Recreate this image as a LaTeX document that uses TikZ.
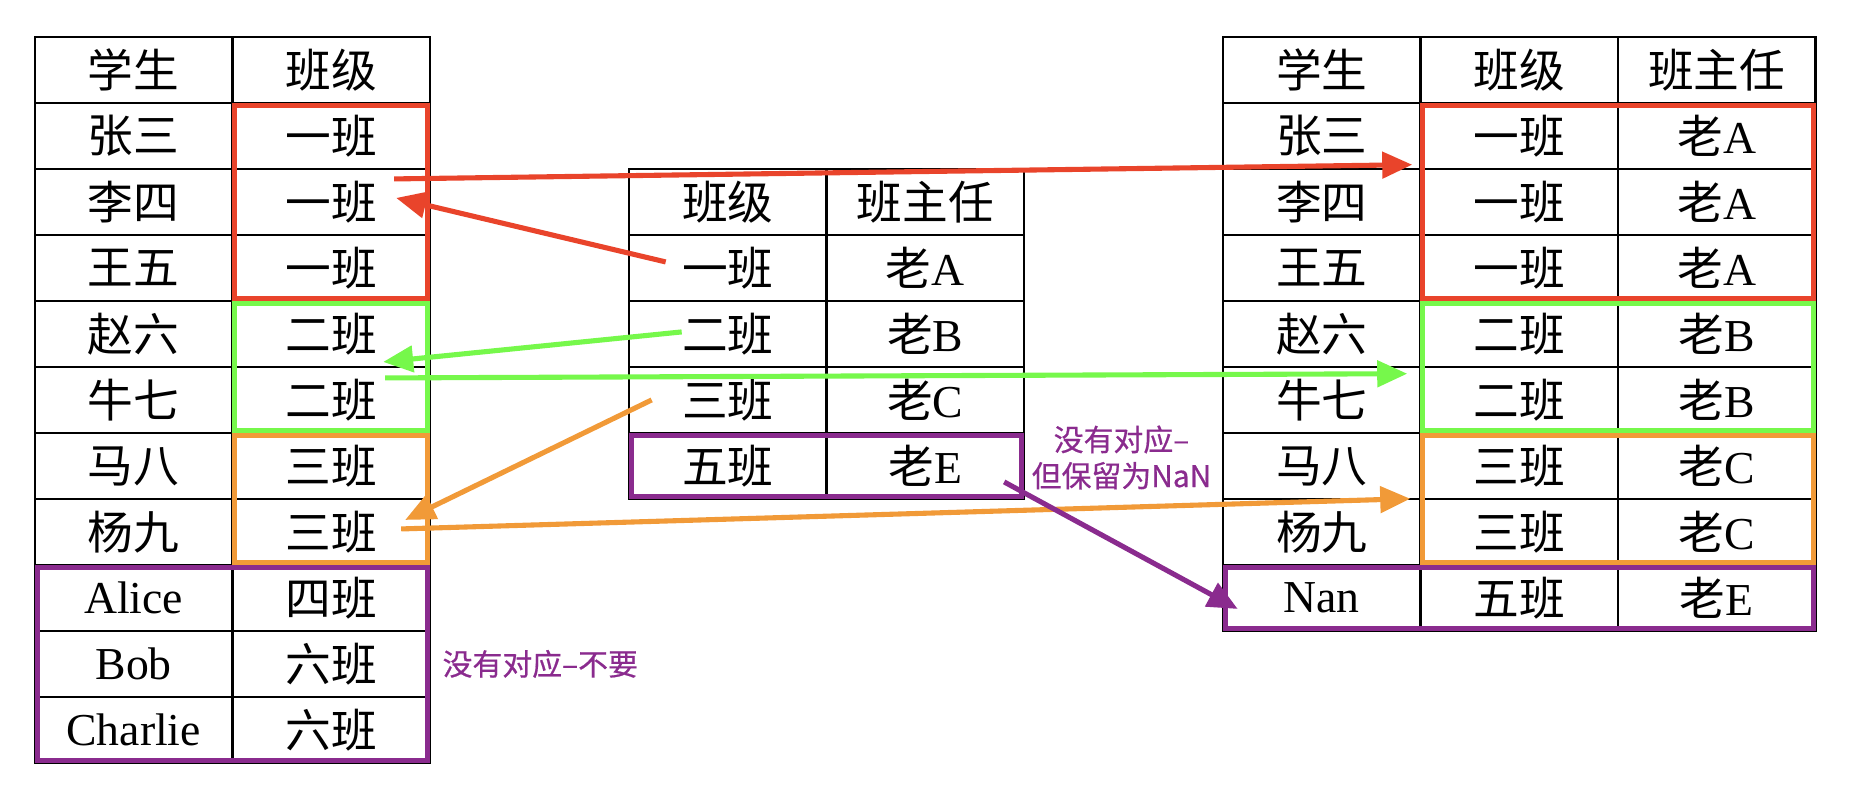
\documentclass[tikz,border=0pt]{standalone}
\usepackage{fontspec}
\setmainfont{Noto Sans CJK SC}
\newfontfamily\latin{Liberation Serif}
\newfontfamily\notefont[FakeBold=0.6]{Noto Sans CJK SC}
\usetikzlibrary{matrix,fit,arrows.meta,positioning}

\definecolor{hlred}{RGB}{233,68,43}
\definecolor{hlgreen}{RGB}{118,248,75}
\definecolor{hlorange}{RGB}{241,154,56}
\definecolor{hlpurple}{RGB}{138,43,142}

\tikzstyle{cell} = [rectangle, draw=black, line width=0.7pt, minimum width=1.975cm, minimum height=0.66cm, inner sep=0pt, anchor=center, text centered, font=\fontsize{13}{15}\selectfont]
\tikzstyle{table} = [matrix of nodes, nodes={cell}, column sep=-0.7pt, row sep=-0.7pt, inner sep=0pt, anchor=north west]
\tikzstyle{group} = [rectangle, line width=1.45pt, inner sep=-0.035cm]
\tikzstyle{link} = [line width=1.45pt, -{Triangle[length=0.3cm, width=0.26cm]}]
\tikzstyle{note} = [text=hlpurple, font=\notefont\fontsize{8.5}{10.3}\selectfont, align=center]

\begin{document}
\begin{tikzpicture}
\useasboundingbox (0,0) rectangle (18.56,8.02);

% students and their class
\matrix (lt) [table] at (0.33,7.67) {
学生 & 班级 \\
张三 & 一班 \\
李四 & 一班 \\
王五 & 一班 \\
赵六 & 二班 \\
牛七 & 二班 \\
马八 & 三班 \\
杨九 & 三班 \\
{\latin Alice} & 四班 \\
{\latin Bob} & 六班 \\
{\latin Charlie} & 六班 \\
};

% class and teacher
\matrix (mt) [table] at (6.27,6.35) {
班级 & 班主任 \\
一班 & 老{\latin A} \\
二班 & 老{\latin B} \\
三班 & 老{\latin C} \\
五班 & 老{\latin E} \\
};

% merged result
\matrix (rt) [table] at (12.21,7.67) {
学生 & 班级 & 班主任 \\
张三 & 一班 & 老{\latin A} \\
李四 & 一班 & 老{\latin A} \\
王五 & 一班 & 老{\latin A} \\
赵六 & 二班 & 老{\latin B} \\
牛七 & 二班 & 老{\latin B} \\
马八 & 三班 & 老{\latin C} \\
杨九 & 三班 & 老{\latin C} \\
{\latin Nan} & 五班 & 老{\latin E} \\
};

\node (lred) [group, draw=hlred, fit=(lt-2-2)(lt-4-2)] {};
\node (lgreen) [group, draw=hlgreen, fit=(lt-5-2)(lt-6-2)] {};
\node (lorange) [group, draw=hlorange, fit=(lt-7-2)(lt-8-2)] {};
\node (lpurple) [group, draw=hlpurple, fit=(lt-9-1)(lt-11-2)] {};
\node (mpurple) [group, draw=hlpurple, fit=(mt-5-1)(mt-5-2)] {};
\node (rred) [group, draw=hlred, fit=(rt-2-2)(rt-4-3)] {};
\node (rgreen) [group, draw=hlgreen, fit=(rt-5-2)(rt-6-3)] {};
\node (rorange) [group, draw=hlorange, fit=(rt-7-2)(rt-8-3)] {};
\node (rpurple) [group, draw=hlpurple, fit=(rt-9-1)(rt-9-3)] {};

\node (nleft) [note, right=0pt of lpurple] {没有对应–不要};
\node (nmid) [note] at (11.215,3.445) {没有对应–\\但保留为NaN};

\draw [link, hlred] ([shift={(-0.62,0.06)}]mt-2-1.center) -- ([shift={(0.65,0.04)}]lt-3-2.center);
\draw [link, hlred] ([shift={(0.63,0.23)}]lt-3-2.center) -- ([shift={(-0.07,0.03)}]rt-3-2.north west);
\draw [link, hlgreen] ([shift={(-0.46,0.02)}]mt-3-1.center) -- ([shift={(0.52,-0.28)}]lt-5-2.center);
\draw [link, hlgreen] ([shift={(0.54,0.22)}]lt-6-2.center) -- ([shift={(-0.12,-0.08)}]rt-6-2.north west);
\draw [link, hlorange] ([shift={(-0.76,0)}]mt-4-1.center) -- ([shift={(0.74,0.12)}]lt-8-2.center);
\draw [link, hlorange] ([shift={(0.70,0.03)}]lt-8-2.center) -- ([shift={(-0.09,-0.01)}]rt-8-2.north west);
\draw [link, hlpurple] ([shift={(0.79,-0.16)}]mt-5-2.center) -- ([shift={(0.16,-0.11)}]rt-9-1.west);
\end{tikzpicture}
\end{document}
